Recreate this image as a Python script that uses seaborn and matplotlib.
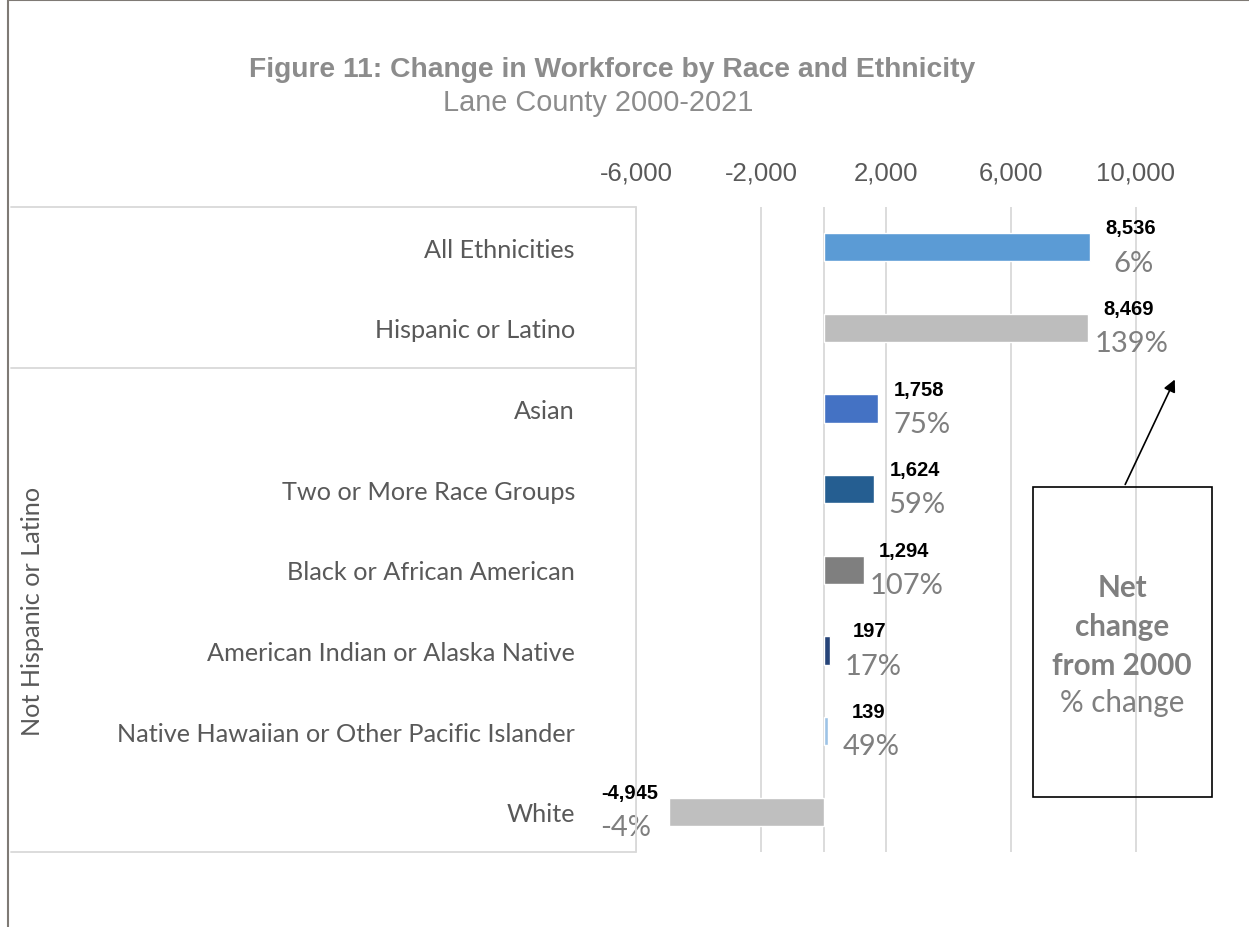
import matplotlib
matplotlib.use("Agg")
import matplotlib.pyplot as plt
import seaborn as sns
import pandas as pd
from matplotlib.lines import Line2D
from matplotlib.patches import Rectangle, FancyArrowPatch

categories = ["All Ethnicities", "Hispanic or Latino", "Asian", "Two or More Race Groups",
              "Black or African American", "American Indian or Alaska Native",
              "Native Hawaiian or Other Pacific Islander", "White"]
net_change = [8536, 8469, 1758, 1624, 1294, 197, 139, -4945]
pct_change = ["6%", "139%", "75%", "59%", "107%", "17%", "49%", "-4%"]
bar_colors = ["#5B9BD5", "#BDBDBD", "#4472C4", "#255E91", "#7F7F7F", "#264478", "#9DC3E6", "#BFBFBF"]
tick_values = [-6000, -2000, 2000, 6000, 10000]
group_label = "Not Hispanic or Latino"

W, H = 1249, 928
sns.set_style("white")
fig = plt.figure(figsize=(W / 100, H / 100), dpi=100)

def fx(px):
    return px / W

def fy(py):
    return 1 - py / H

# plot area
ax_left, ax_right, ax_top, ax_bottom = 636, 1249, 208, 853
ax = fig.add_axes([fx(ax_left), fy(ax_bottom), fx(ax_right - ax_left), (ax_bottom - ax_top) / H])

df = pd.DataFrame({"category": categories, "value": net_change})
sns.barplot(data=df, y="category", x="value", hue="category", palette=bar_colors,
            orient="h", width=0.35, legend=False, ax=ax, saturation=1)

px_per_unit = 0.03125
ax.set_xlim(-6000, -6000 + (ax_right - ax_left) / px_per_unit)
ax.set_ylim(7.5, -0.5)
for s in ax.spines.values():
    s.set_visible(False)
ax.set_xlabel("")
ax.set_ylabel("")
ax.xaxis.tick_top()
ax.set_xticks(tick_values)
ax.set_xticklabels([f"{v:,}" for v in tick_values], fontsize=18.5, color="#595959",
                   family="Liberation Sans")
ax.tick_params(axis="x", length=0, pad=16)
ax.grid(axis="x", color="#D9D9D9", linewidth=1.3)
ax.axvline(0, color="#D9D9D9", linewidth=1.3, zorder=0)
ax.set_axisbelow(True)
ax.set_yticks(range(len(categories)))
ax.set_yticklabels(categories, fontsize=18.2, color="#595959", family="Lato")
ax.tick_params(axis="y", length=0, pad=44)

# data labels
for i, (v, p) in enumerate(zip(net_change, pct_change)):
    off = 29 if v >= 0 else -28
    ax.annotate(f"{v:,}", xy=(v, i), xytext=(off, 14), textcoords="offset points",
                ha="center", va="center", fontsize=14.5, fontweight="bold",
                color="black", family="Liberation Sans")
    ax.annotate(p, xy=(v, i), xytext=(off + (2 if v >= 0 else -3), -11), textcoords="offset points",
                ha="center", va="center", fontsize=21, color="#7F7F7F", family="Lato")

# left category panel lines
lc = "#D9D9D9"
for y in (208, 369, 853):
    fig.add_artist(Line2D([fx(11), fx(636)], [fy(y), fy(y)], color=lc, linewidth=1.3))
fig.add_artist(Line2D([fx(636), fx(636)], [fy(208), fy(853)], color=lc, linewidth=1.3))

fig.text(fx(33), fy(611), group_label, rotation=90, ha="center", va="center",
         fontsize=18.2, color="#595959", family="Lato")

# outer frame
fig.add_artist(Line2D([fx(8), fx(8)], [fy(1), 0], color="#7F7A75", linewidth=1.5))
fig.add_artist(Line2D([fx(8), 1], [fy(1), fy(1)], color="#7F7A75", linewidth=1.5))

# titles
fig.text(fx(612), fy(70), "Figure 11: Change in Workforce by Race and Ethnicity", ha="center",
         va="center", fontsize=20.3, fontweight="bold", color="#8C8C8C", family="Liberation Sans")
fig.text(fx(598), fy(103), "Lane County 2000-2021", ha="center", va="center",
         fontsize=20.8, color="#8C8C8C", family="Liberation Sans")

# callout box
fig.add_artist(Rectangle((fx(1033), fy(798)), fx(1212 - 1033), (798 - 488) / H,
                         fill=False, edgecolor="black", linewidth=1.2))
for txt, yy, wt in [("Net", 588, "bold"), ("change", 627, "bold"), ("from 2000", 666, "bold"),
                    ("% change", 703, "normal")]:
    fig.text(fx(1122), fy(yy), txt, ha="center", va="center", fontsize=21.3, fontweight=wt,
             color="#7F7F7F", family="Lato")
fig.add_artist(FancyArrowPatch((fx(1124), fy(488)), (fx(1176), fy(378)),
                               transform=fig.transFigure, arrowstyle="-|>", mutation_scale=18,
                               color="black", linewidth=1.2))

fig.savefig("out.png", dpi=100, facecolor="white")
